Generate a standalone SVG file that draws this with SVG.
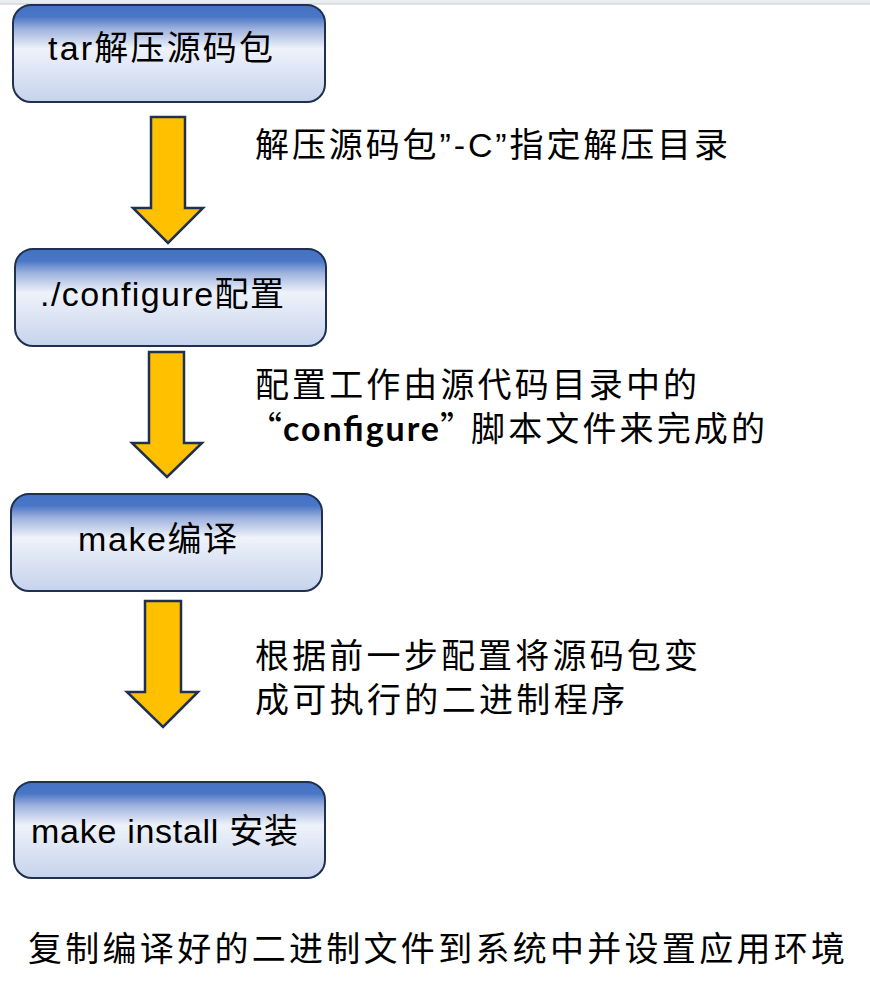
<svg xmlns="http://www.w3.org/2000/svg" width="870" height="986" viewBox="0 0 870 986">
<defs>
<linearGradient id="boxg" x1="0" y1="0" x2="0" y2="1">
<stop offset="0" stop-color="#4472C4"/>
<stop offset="0.12" stop-color="#4a76c6"/>
<stop offset="0.25" stop-color="#9fb3de"/>
<stop offset="0.45" stop-color="#eef2fa"/>
<stop offset="1" stop-color="#c6d3ec"/>
</linearGradient>
<style>
.box{fill:url(#boxg);stroke:#1f3050;stroke-width:2}
.arrow{fill:#FFC000;stroke:#1f3050;stroke-width:2.5;stroke-linejoin:miter}
.bt{font-family:"Liberation Sans","Noto Sans CJK SC",sans-serif;font-size:34px;fill:#000}
.lt{font-family:"Liberation Sans","Noto Sans CJK SC",sans-serif;font-size:34px;fill:#000}
.cjk{font-family:"Noto Sans CJK SC",sans-serif;font-size:34px;fill:#000}
.cal{font-family:Lato,"Liberation Sans",sans-serif;font-weight:bold;font-size:34px;fill:#000}
</style>
</defs>
<rect x="0" y="0" width="870" height="4" fill="#e9edf1"/>
<line x1="0" y1="4" x2="870" y2="4" stroke="#c8c8c8" stroke-width="1"/>

<g id="connectors">
<polygon class="arrow" points="151,117 185,117 185,208 203,208 168,243 133,208 151,208"/>
<polygon class="arrow" points="149,352 184,352 184,443 202,443 167,477 132,443 149,443"/>
<polygon class="arrow" points="145,601 181,601 181,692 198,692 163,727 127,692 145,692"/>
</g>

<g id="node1">
<rect class="box" x="13" y="5" width="312" height="97" rx="18"/>
<text class="bt" x="48" y="60" textLength="225">tar解压源码包</text>
</g>
<g id="label1">
<text class="lt" x="255" y="157" textLength="473">解压源码包”-C”指定解压目录</text>
</g>

<g id="node2">
<rect class="box" x="15" y="249" width="311" height="97" rx="18"/>
<text class="bt" x="40" y="306" textLength="244">./configure配置</text>
</g>
<g id="label2">
<text class="lt" x="255" y="397" textLength="442">配置工作由源代码目录中的</text>
<text class="cjk" x="248" y="441">“</text>
<text class="cal" x="283" y="441" textLength="156">configure</text>
<text class="cjk" x="440" y="441">”</text>
<text class="lt" x="471" y="441" textLength="294">脚本文件来完成的</text>
</g>

<g id="node3">
<rect class="box" x="11" y="494" width="311" height="97" rx="18"/>
<text class="bt" x="78" y="551" textLength="159">make编译</text>
</g>
<g id="label3">
<text class="lt" x="255" y="668" textLength="443">根据前一步配置将源码包变</text>
<text class="lt" x="255" y="712" textLength="370">成可执行的二进制程序</text>
</g>

<g id="node4">
<rect class="box" x="14" y="782" width="311" height="96" rx="18"/>
<text class="bt" x="31" y="843" textLength="267">make install 安装</text>
</g>
<g id="label4">
<text class="lt" x="28" y="961" font-size="36" textLength="817">复制编译好的二进制文件到系统中并设置应用环境</text>
</g>
</svg>
